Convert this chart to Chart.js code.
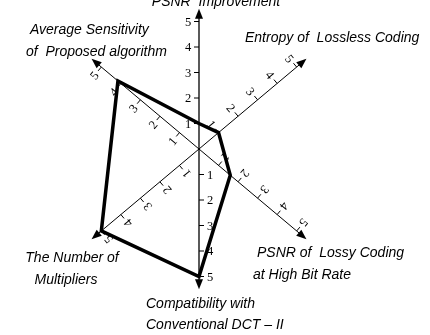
<!DOCTYPE html>
<html>
<head>
<meta charset="utf-8">
<script src="https://cdn.jsdelivr.net/npm/chart.js@4"></script>
<style>
  html, body { margin: 0; padding: 0; background: #fff; }
  #radar { display: block; }
</style>
</head>
<body>
<canvas id="radar" width="430" height="335"></canvas>
<script>
// Axis names (one entry per axis, split into lines)
const categories = [
    ['PSNR  Improvement'],
    ['Entropy of  Lossless Coding'],
    ['PSNR of  Lossy Coding', 'at High Bit Rate'],
    ['Compatibility with', 'Conventional DCT \u2013 II'],
    ['The Number of', 'Multipliers'],
    ['Average Sensitivity', 'of  Proposed algorithm']
];
const scores = [1, 1, 1.6, 5, 5, 4.15];
const tickValues = [1, 2, 3, 4, 5];
const tickLabels = ['1', '2', '3', '4', '5'];

document.addEventListener('DOMContentLoaded', function() {
    // direction of each axis in degrees (math convention, counter-clockwise from +x)
    const axisAngles = [90, 40, -40, -90, -140, 140];
    const unit = 25.5;          // px per score unit
    const cx = 199, cy = 149;   // where the axes cross
    const axisEnd = 5.5;

    // where the axis captions go, one spot per line
    const captionSpots = [
        [[216, 2, 'center']],
        [[245, 38, 'left']],
        [[257, 253, 'left'], [253, 275, 'left']],
        [[146, 304, 'left'], [146, 325, 'left']],
        [[72, 258, 'center'], [66, 280, 'center']],
        [[30, 30, 'left'], [26, 52, 'left']]
    ];

    const rad = d => d * Math.PI / 180;
    const polar = (v, i) => ({ x: v * Math.cos(rad(axisAngles[i])), y: v * Math.sin(rad(axisAngles[i])) });

    const points = scores.map(polar);
    points.push(points[0]);

    const axesPlugin = {
        id: 'radarAxes',
        beforeDatasetsDraw(chart) {
            const ctx = chart.ctx;
            const xs = chart.scales.x, ys = chart.scales.y;
            const px = p => ({ x: xs.getPixelForValue(p.x), y: ys.getPixelForValue(p.y) });
            const o = px({ x: 0, y: 0 });

            ctx.save();
            axisAngles.forEach((a, i) => {
                const tip = px(polar(axisEnd, i));
                const dx = (tip.x - o.x), dy = (tip.y - o.y);
                const len = Math.hypot(dx, dy);
                const ux = dx / len, uy = dy / len;
                const nx = uy, ny = -ux;   // side where ticks and numbers sit

                // axis line
                ctx.strokeStyle = '#000';
                ctx.lineWidth = (a === 90 || a === -90) ? 1.3 : 1;
                ctx.beginPath();
                ctx.moveTo(o.x, o.y);
                ctx.lineTo(tip.x - ux * 6, tip.y - uy * 6);
                ctx.stroke();

                // arrow head
                ctx.fillStyle = '#000';
                ctx.beginPath();
                ctx.moveTo(tip.x, tip.y);
                ctx.lineTo(tip.x - ux * 10 + nx * 4, tip.y - uy * 10 + ny * 4);
                ctx.lineTo(tip.x - ux * 10 - nx * 4, tip.y - uy * 10 - ny * 4);
                ctx.closePath();
                ctx.fill();

                // ticks + numbers
                ctx.lineWidth = 1;
                ctx.font = '12.5px "Liberation Serif"';
                ctx.textAlign = 'center';
                ctx.textBaseline = 'middle';
                tickValues.forEach((t, k) => {
                    const p = px(polar(t, i));
                    ctx.beginPath();
                    ctx.moveTo(p.x, p.y);
                    ctx.lineTo(p.x + nx * 5, p.y + ny * 5);
                    ctx.stroke();
                    const lx = p.x + nx * 11, ly = p.y + ny * 11;
                    ctx.save();
                    ctx.translate(lx, ly);
                    if (a !== 90 && a !== -90) ctx.rotate(rad(-a + 90));
                    ctx.fillText(tickLabels[k], 0, 1);
                    ctx.restore();
                });
            });

            // captions
            ctx.font = 'italic 14px "Liberation Sans"';
            ctx.textBaseline = 'middle';
            categories.forEach((lines, i) => {
                lines.forEach((txt, j) => {
                    const s = captionSpots[i][j];
                    ctx.textAlign = s[2];
                    ctx.fillText(txt, s[0], s[1]);
                });
            });
            ctx.restore();
        }
    };

    const W = 430, H = 335;
    new Chart(document.getElementById('radar').getContext('2d'), {
        type: 'scatter',
        data: {
            datasets: [{
                label: 'Proposed',
                data: points,
                showLine: true,
                borderColor: '#000',
                borderWidth: 3.5,
                borderJoinStyle: 'miter',
                pointRadius: 0,
                fill: false,
                tension: 0
            }]
        },
        options: {
            responsive: false,
            devicePixelRatio: 1,
            animation: false,
            layout: { padding: 0 },
            plugins: { legend: { display: false }, tooltip: { enabled: false } },
            scales: {
                x: { type: 'linear', display: false, min: -cx / unit, max: (W - cx) / unit },
                y: { type: 'linear', display: false, min: -(H - cy) / unit, max: cy / unit }
            }
        },
        plugins: [axesPlugin]
    });
});
</script>
</body>
</html>
